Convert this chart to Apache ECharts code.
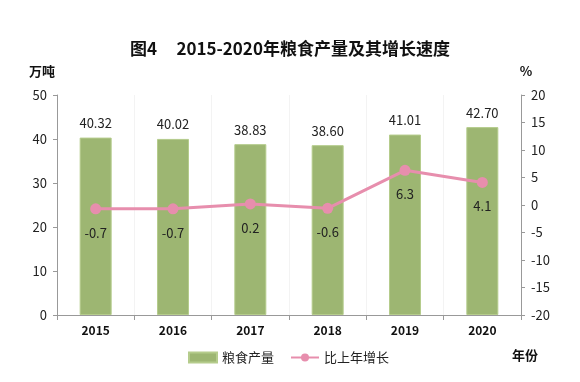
<!DOCTYPE html>
<html><head><meta charset="utf-8">
<script src="https://cdn.jsdelivr.net/npm/echarts@6/dist/echarts.min.js"></script>
<style>html,body{margin:0;padding:0;background:#fff}#c{width:580px;height:382px}</style>
</head><body><div id="c"></div>
<script>
const years = ['2015','2016','2017','2018','2019','2020'];
const output = [40.32, 40.02, 38.83, 38.60, 41.01, 42.70];
const growth = [-0.7, -0.7, 0.2, -0.6, 6.3, 4.1];
const font = '"Noto Sans CJK SC", "Noto Sans", sans-serif';
const chart = echarts.init(document.getElementById('c'));
chart.setOption({
  animation: false,
  textStyle: {fontFamily: font},
  title: {text: '图4     2015-2020年粮食产量及其增长速度', left: 'center', top: 35,
    textStyle: {fontSize: 17, fontWeight: 'bold', color: '#111', fontFamily: font}},
  legend: {bottom: 13, left: 183, itemGap: 16, itemWidth: 28, itemHeight: 10,
    textStyle: {fontSize: 13, color: '#222'},
    data: [{name: '粮食产量', icon: 'rect'}, {name: '比上年增长'}]},
  grid: {left: 57, right: 59, top: 95, bottom: 67},
  graphic: [{type: 'text', left: 512, top: 349,
    style: {text: '年份', font: 'bold 13px ' + font, fill: '#111'}}],
  xAxis: {type: 'category', data: years,
    axisLine: {lineStyle: {color: '#999'}},
    axisTick: {show: true, length: 5, lineStyle: {color: '#999'}},
    axisLabel: {fontWeight: 'bold', fontSize: 12, color: '#111', margin: 9},
    splitLine: {show: true, lineStyle: {color: '#f3f3f3'}}},
  yAxis: [
    {type: 'value', min: 0, max: 50, interval: 10,
      name: '万吨', nameGap: 17, nameTextStyle: {fontWeight: 'bold', fontSize: 13, color: '#111', padding: [0, 30, 0, 0]},
      axisLine: {show: true, lineStyle: {color: '#999'}},
      axisTick: {show: true, length: 4, lineStyle: {color: '#999'}},
      axisLabel: {fontSize: 13, color: '#222', margin: 10},
      splitLine: {show: false}},
    {type: 'value', min: -20, max: 20, interval: 5,
      name: '%', nameGap: 17, nameTextStyle: {fontWeight: 'bold', fontSize: 13, color: '#111', padding: [0, 0, 0, 10]},
      axisLine: {show: true, lineStyle: {color: '#999'}},
      axisTick: {show: true, length: 4, lineStyle: {color: '#999'}},
      axisLabel: {fontSize: 13, color: '#222', margin: 10},
      splitLine: {show: false}}
  ],
  series: [
    {name: '粮食产量', type: 'bar', data: output, barWidth: 32,
      itemStyle: {color: '#9DB672', borderColor: '#B5CC8C', borderWidth: 1},
      label: {show: true, position: 'top', distance: 8, fontSize: 13, color: '#222',
        formatter: p => p.value.toFixed(2)}},
    {name: '比上年增长', type: 'line', yAxisIndex: 1, data: growth,
      symbol: 'circle', symbolSize: 11,
      lineStyle: {color: '#E78EAD', width: 3}, itemStyle: {color: '#E78EAD'},
      label: {show: true, position: 'bottom', distance: 12, fontSize: 13, color: '#222',
        formatter: p => p.value.toFixed(1)}}
  ]
});
</script></body></html>
